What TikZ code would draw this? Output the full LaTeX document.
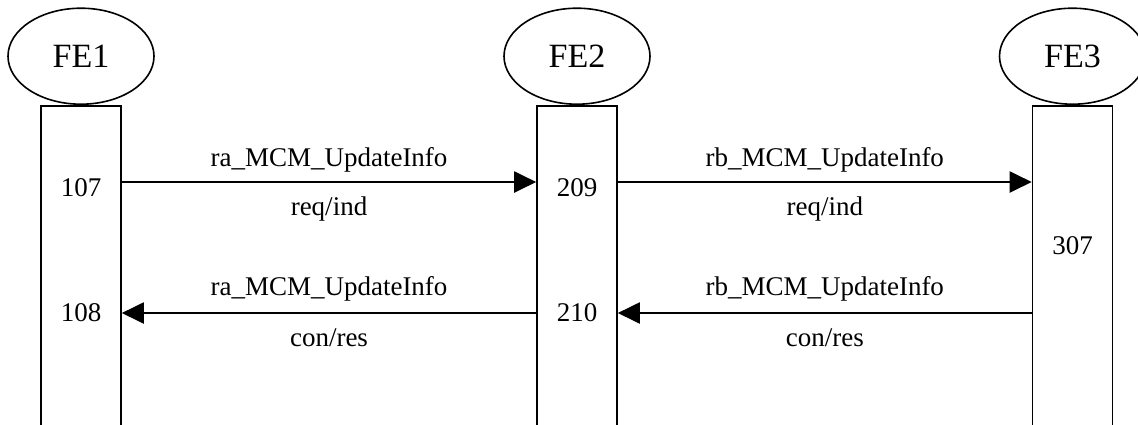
\documentclass[tikz,border=0pt]{standalone}
\usepackage{fontspec}
\setmainfont{Liberation Serif}
\usetikzlibrary{positioning}
\usetikzlibrary{shapes.geometric}
\usetikzlibrary{arrows.meta}

\begin{document}
\begin{tikzpicture}[x=0.5pt, y=-0.5pt,
  entity/.style={ellipse, draw, line width=0.8pt, minimum width=73pt, minimum height=48pt, inner sep=0pt, font=\fontsize{17}{20}\selectfont},
  lifebox/.style={rectangle, draw, line width=0.8pt, minimum width=40pt, minimum height=170pt, anchor=north, inner sep=0pt},
  msg/.style={line width=1pt, -{Triangle[length=11pt,width=10.5pt]}},
  lbl/.style={font=\fontsize{13.5}{16}\selectfont, anchor=base}]

\useasboundingbox (0,0) rectangle (1138,424);
\clip (0,0) rectangle (1138,424);

% lifelines
\node[lifebox] (b1) at (81,105) {};
\node[lifebox] (b2) at (577,105) {};
\node[lifebox] (b3) at (1072.5,105) {};

\node[entity, above=0pt of b1] (fe1) {FE1};
\node[entity, above=0pt of b2] (fe2) {FE2};
\node[entity, above=0pt of b3] (fe3) {FE3};

% step numbers
\node[lbl] (n107) at (81,196) {107};
\node[lbl] (n108) at (81,321) {108};
\node[lbl] (n209) at (577,196) {209};
\node[lbl] (n210) at (577,321) {210};
\node[lbl] (n307) at (1072.5,254) {307};

\coordinate (r1) at (0,182);
\coordinate (r2) at (0,313);

% messages
\draw[msg] (b1.east |- r1) -- node[lbl, yshift=8pt] {ra\_MCM\_UpdateInfo}
  node[lbl, yshift=-16.75pt] {req/ind} (b2.west |- r1);
\draw[msg] (b2.east |- r1) -- node[lbl, yshift=8pt] {rb\_MCM\_UpdateInfo}
  node[lbl, yshift=-16.75pt] {req/ind} (b3.west |- r1);

\draw[msg] (b2.west |- r2) -- node[lbl, yshift=9pt] {ra\_MCM\_UpdateInfo}
  node[lbl, yshift=-16.75pt] {con/res} (b1.east |- r2);
\draw[msg] (b3.west |- r2) -- node[lbl, yshift=9pt] {rb\_MCM\_UpdateInfo}
  node[lbl, yshift=-16.75pt] {con/res} (b2.east |- r2);

\end{tikzpicture}
\end{document}
